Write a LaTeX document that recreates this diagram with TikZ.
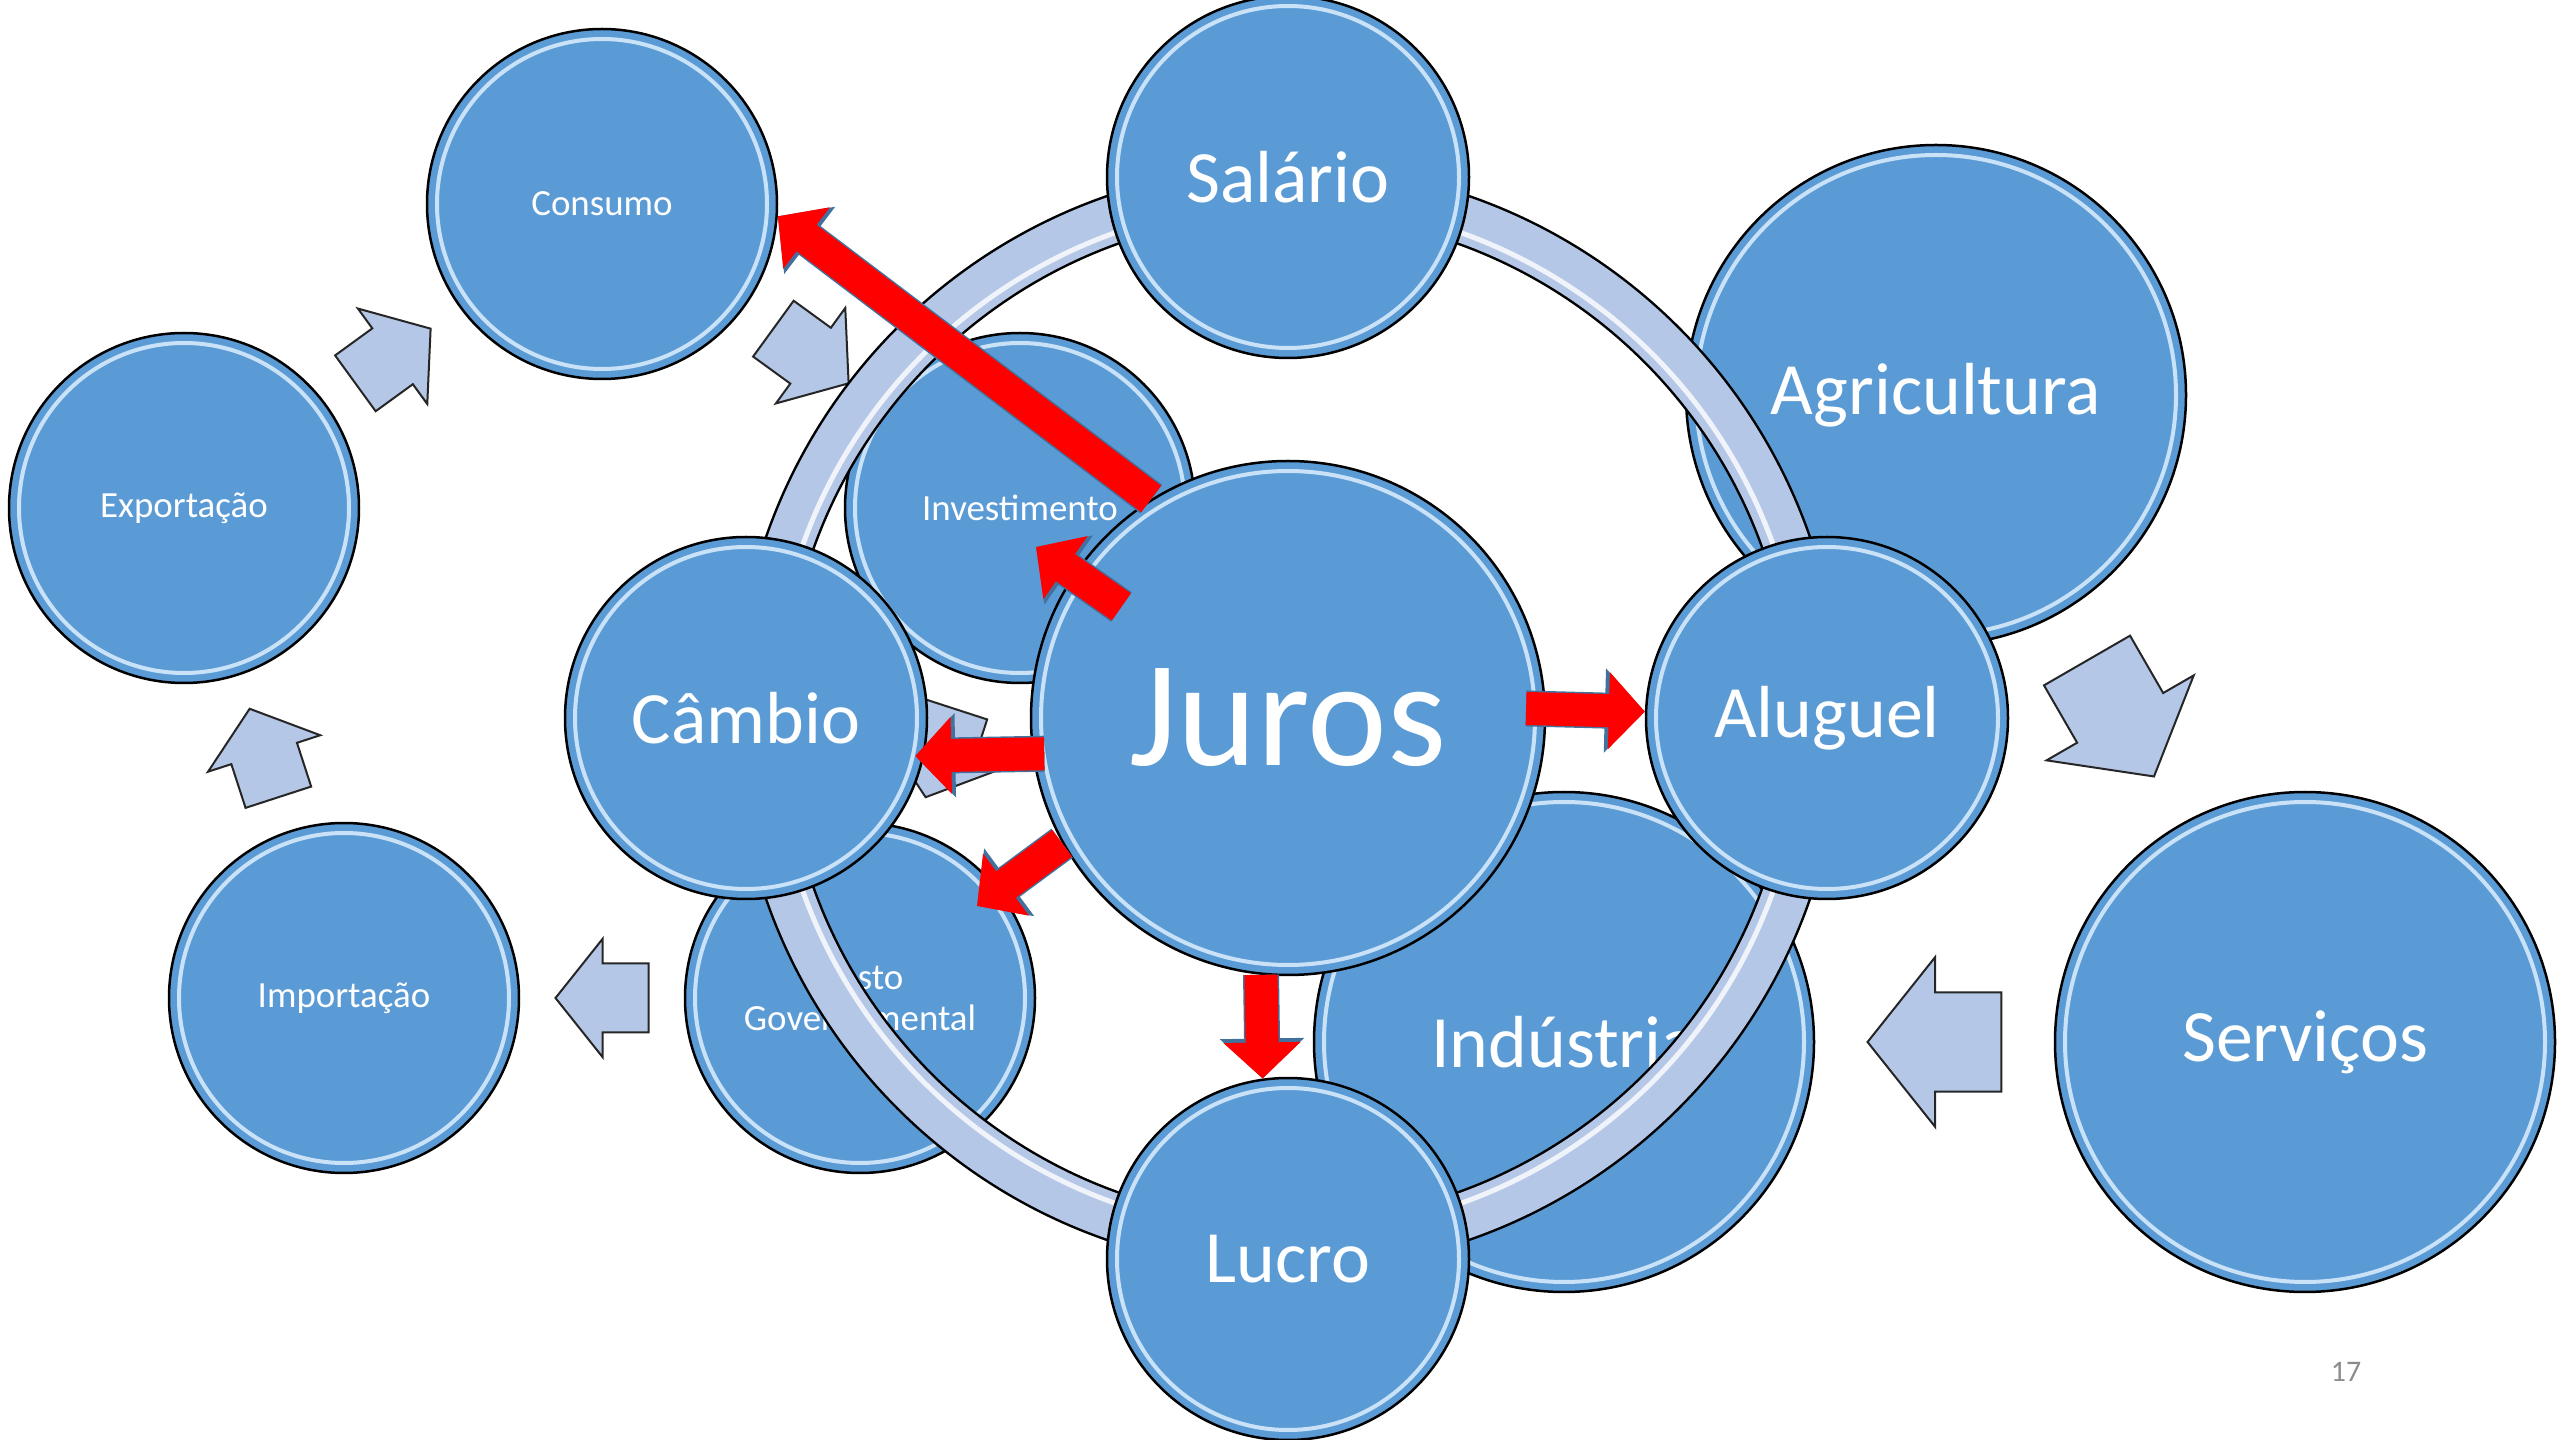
\documentclass[tikz,border=0pt]{standalone}
\usepackage{fontspec}
\setmainfont{Carlito}
\usetikzlibrary{arrows.meta,calc}

\definecolor{bubblefill}{HTML}{5B9BD5}
\definecolor{rimcolor}{HTML}{C9E2F7}
\definecolor{ringfill}{HTML}{B4C7E7}
\definecolor{arrowrim}{HTML}{41719C}
\definecolor{pagegray}{HTML}{8C8C8C}

\tikzset{
  bubble/.style={circle, draw=black, line width=0.25mm, fill=bubblefill, text=white,
    inner sep=0pt, align=center, minimum size=#1,
    path picture={\draw[rimcolor, line width=0.4mm]
      (path picture bounding box.center) circle[radius=#1/2-1mm];}},
  redarrow/.style={draw=red, line width=3.3mm, -{Triangle[width=7.5mm,length=3.6mm]},
    preaction={draw=arrowrim, line width=3.6mm, -{Triangle[width=8.2mm,length=4mm]}}},
  ringline/.style={draw=ringfill, line width=4.6mm, preaction={draw=black, line width=5.1mm}},
  pics/cyclearrow/.style={code={
    \draw[fill=ringfill, draw=black!85, line width=0.2mm, line join=miter]
      (-46.5,-34.5) -- (-0.5,-34.5) -- (-0.5,-59) -- (46.5,0)
      -- (-0.5,59) -- (-0.5,34.5) -- (-46.5,34.5) -- cycle;}}
}

\begin{document}
\begin{tikzpicture}[x=0.1mm,y=-0.1mm]
        \useasboundingbox (0,0) rectangle (2560,1440);

        \begin{scope}[every node/.style={bubble=35mm, font=\fontsize{10.5}{11.8}\selectfont}]
          \node (consumo)      at (602,204)  {Consumo};
          \node (investimento) at (1020,508) {Investimento};
          \node (gasto)        at (860,998)  {Gasto\\Governamental};
          \node (importacao)   at (344,998)  {Importação};
          \node (exportacao)   at (184,508)  {Exportação};
        \end{scope}

        \begin{scope}[every node/.style={bubble=50mm, font=\fontsize{21}{25}\selectfont}]
          \node (agricultura) at (1936,395)  {Agricultura};
          \node (servicos)    at (2305,1042) {Serviços};
          \node (industria)   at (1564,1042) {Indústria};
        \end{scope}

        \pic[rotate=36]   at ($(exportacao)!.5!(consumo)$)   {cyclearrow};
        \pic[rotate=-36]  at ($(consumo)!.5!(investimento)$) {cyclearrow};
        \pic[rotate=-108] at ($(investimento)!.5!(gasto)$)   {cyclearrow};
        \pic[rotate=180]  at ($(gasto)!.5!(importacao)$)     {cyclearrow};
        \pic[rotate=108]  at ($(importacao)!.5!(exportacao)$) {cyclearrow};
        \pic[rotate=-60, scale=1.44] at ($(agricultura)!.5!(servicos)$) {cyclearrow};
        \pic[rotate=180, scale=1.44] at ($(servicos)!.5!(industria)$)   {cyclearrow};

        \coordinate (hub) at (1288,718);
        \draw[ringline] (hub) circle[radius=52.8mm];
        \draw[white, line width=0.5mm, opacity=.8] (hub) circle[radius=51.5mm];

        \begin{scope}[every node/.style={bubble=36.2mm, font=\fontsize{21}{25}\selectfont}]
          \node (salario) at (1288,177)  {Salário};
          \node (aluguel) at (1827,718)  {Aluguel};
          \node (lucro)   at (1288,1259) {Lucro};
          \node (cambio)  at (746,718)   {Câmbio};
        \end{scope}

        \node[bubble=51.4mm, font=\fontsize{43}{50}\selectfont] (juros) at (hub) {Juros};

        \node[text=pagegray, font=\fontsize{8.5}{10}\selectfont] (pagenum) at (2346,1372) {17};

        \coordinate (invtip)  at (1036,547);
        \coordinate (gasttip) at (977,906);

        \begin{scope}[every edge/.style={redarrow}]
          \path (juros.122) edge (consumo.-4);
          \path (juros.146) edge[shorten <=-5.8mm] (invtip);
          \path (juros.188) edge[shorten <=-1.2mm, shorten >=-0.9mm] (cambio.-12);
          \path (juros.209) edge (gasttip);
          \path (juros.264) edge (lucro.98);
          \path (juros.2)   edge[shorten <=-2mm] (aluguel.178);
        \end{scope}

      \end{tikzpicture}
\end{document}
